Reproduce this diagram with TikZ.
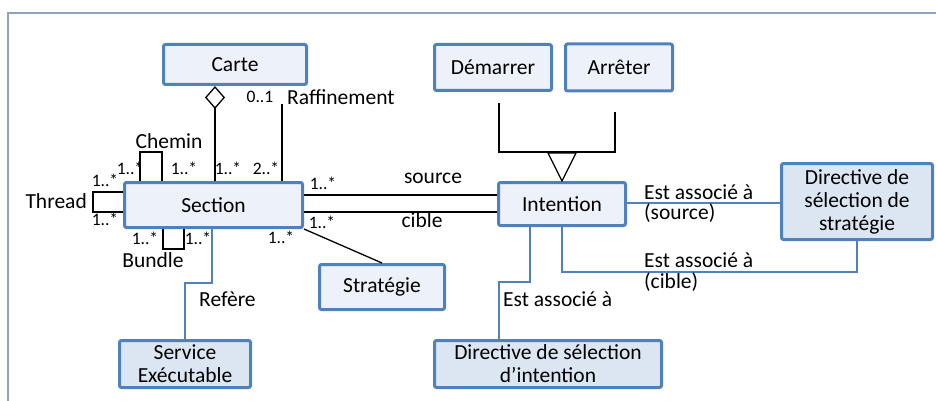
\documentclass[tikz,border=0pt]{standalone}
\usepackage{fontspec}
\setmainfont{Carlito}
\usetikzlibrary{arrows.meta}
\definecolor{bordblue}{HTML}{4F81BD}
\definecolor{filllight}{HTML}{EDF1F9}
\definecolor{filldark}{HTML}{DCE6F2}
\definecolor{framecol}{HTML}{8CA3C5}
\begin{document}
\begin{tikzpicture}[x=1pt,y=-1pt,
  cls/.style={draw=bordblue, line width=3pt, rounded corners=2pt, fill=filllight, inner sep=0pt,
    font=\fontsize{21.5}{23}\selectfont, align=center},
  clsdark/.style={cls, fill=filldark},
  txt/.style={inner sep=0pt, font=\fontsize{21.5}{23}\selectfont},
  mult/.style={inner sep=0pt, font=\fontsize{17.5}{18}\selectfont},
  assoc/.style={draw=black, line width=1.3pt},
  link/.style={draw=bordblue, line width=1.1pt}]
\useasboundingbox (0,0) rectangle (936,401);
\draw[framecol, line width=1.5pt] (8,401) -- (8,13) -- (936,13);
% classes
\node[cls, minimum width=143, minimum height=40] (carte) at (235,64.5) {Carte};
\node[cls, minimum width=178, minimum height=45] (section) at (213.5,205) {Section};
\node[cls, minimum width=117, minimum height=46] (demarrer) at (493,67.5) {Démarrer};
\node[cls, minimum width=107, minimum height=47] (arreter) at (619,67.5) {Arrêter};
\node[cls, minimum width=127, minimum height=43] (intention) at (562,204) {Intention};
\node[clsdark, minimum width=151, minimum height=76] (dss) at (857,201.5) {Directive de\\sélection de\\stratégie};
\node[cls, minimum width=125, minimum height=45] (strategie) at (382,287) {Stratégie};
\node[clsdark, minimum width=131, minimum height=47] (service) at (185,364) {Service\\Exécutable};
\node[clsdark, minimum width=227, minimum height=47] (dsi) at (548,364) {Directive de sélection\\d’intention};
% aggregation Carte - Section
\draw[assoc, -{Diamond[open, length=23pt, width=20pt, line width=1.3pt]}] (section.north -| 215,0) -- (carte.south -| 215,0);
% Raffinement
\coordinate (raf) at (282,104);
\draw[assoc] (raf) -- (section.north -| raf);
% Chemin loop
\draw[assoc] (section.north -| 140,0) -- (140,152) -- (162,152) -- (section.north -| 162,0);
% Thread loop
\draw[assoc] (section.west |- 0,192) -- (93,192) -- (93,212) -- (section.west |- 0,212);
% Bundle loop
\draw[assoc] (section.south -| 163,0) -- (163,249) -- (184,249) -- (section.south -| 184,0);
% source / cible
\draw[assoc] (section.east |- 0,195) -- (intention.west |- 0,195);
\draw[assoc] (section.east |- 0,212) -- (intention.west |- 0,212);
% Section - Strategie
\draw[assoc] (section.south east) -- (strategie.north);
% Refere
\draw[link] (section.south -| 212,0) -- (212,283) -- (185,283) -- (service.north);
% generalization
\coordinate (gl) at (499,103);
\coordinate (gr) at (615,112);
\draw[assoc] (gl) -- (499,152) -- (615,152) -- (gr);
\draw[assoc, fill=white] (intention.north) -- ++(-14,-28) -- ++(28,0) -- cycle;
% Intention links
\draw[link] (intention.east |- 0,203) -- (dss.west |- 0,203);
\draw[link] (intention.south) -- (562,272) -- (857,272) -- (dss.south);
\draw[link] (intention.south -| 530,0) -- (530,282) -- (499,282) -- (dsi.north -| 499,0);
% labels
\node[txt] (lchemin) at (169,141) {Chemin};
\node[mult] (l01) at (260,97) {0..1};
\node[txt, anchor=west] (lraf) at (287,97) {Raffinement};
\node[mult] (m1) at (130,168) {1..*};
\node[mult] (m2) at (184,168) {1..*};
\node[mult] (m3) at (228,168) {1..*};
\node[mult] (m4) at (266,168) {2..*};
\node[txt, anchor=east] (lthread) at (87,201) {Thread};
\node[mult] (m5) at (105,180) {1..*};
\node[mult] (m6) at (105,219) {1..*};
\node[txt] (lbundle) at (153,260) {Bundle};
\node[mult] (m7) at (145,238) {1..*};
\node[mult] (m8) at (198,238) {1..*};
\node[mult] (m9) at (281,237) {1..*};
\node[mult] (m10) at (323,183) {1..*};
\node[txt] (lsource) at (433,178) {source};
\node[mult] (m11) at (322,222) {1..*};
\node[txt] (lcible) at (422,220) {cible};
\node[txt, anchor=west] (lrefere) at (199,299) {Refère};
\node[txt, anchor=west] (la1) at (644,192) {Est associé à};
\node[txt, anchor=west] (la1b) at (644,213) {(source)};
\node[txt, anchor=west] (la2) at (644,260) {Est associé à};
\node[txt, anchor=west] (la2b) at (644,282) {(cible)};
\node[txt, anchor=west] (la3) at (503,299) {Est associé à};
\end{tikzpicture}
\end{document}
